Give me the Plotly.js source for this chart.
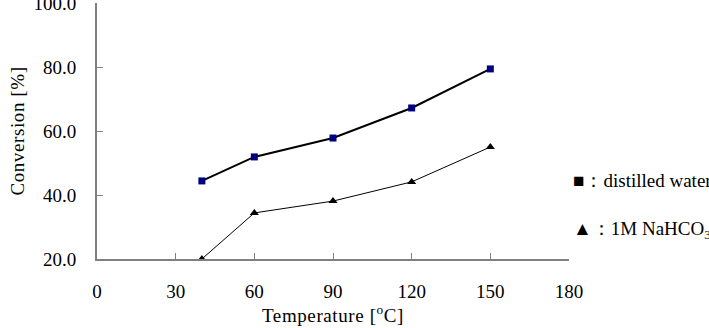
<!DOCTYPE html>
<html><head><meta charset="utf-8">
<script src="https://cdn.plot.ly/plotly-3.0.1.min.js"></script>
<style>html,body{margin:0;padding:0;background:#fff}#c{width:709px;height:328px}
.g-xtitle text,.g-ytitle text{letter-spacing:0.6px}</style>
</head><body><div id="c"></div>
<script>
const temperature = [40, 60, 90, 120, 150];
const distilledWater = [44.4, 51.9, 57.8, 67.2, 79.4];
const nahco3 = [20.0, 34.4, 38.1, 44.1, 55.0];
const xTicks = [0, 30, 60, 90, 120, 150, 180];
const yTicks = [20, 40, 60, 80, 100];
const yTickLabels = ["20.0", "40.0", "60.0", "80.0", "100.0"];
const legendLabels = ["■：distilled water", "▲：1M NaHCO<sub>3</sub>"];

const FAM = "'Liberation Serif', 'Times New Roman', Times, serif";
const f = (s) => ({family: FAM, size: s, color: "#000"});

const traces = [
  {x: temperature, y: distilledWater, mode: "lines+markers", cliponaxis: false,
   line: {color: "#000", width: 2}, marker: {symbol: "square", size: 7, color: "#000080"}},
  {x: temperature, y: nahco3, mode: "lines+markers", cliponaxis: false,
   line: {color: "#000", width: 1}, marker: {symbol: "triangle-up", size: 8, color: "#000"}}
];

const layout = {
  width: 709, height: 328,
  margin: {l: 97, r: 140, t: 3, b: 69},
  showlegend: false,
  paper_bgcolor: "#fff", plot_bgcolor: "#fff",
  font: f(19),
  xaxis: {range: [0, 180], tickvals: xTicks, ticktext: xTicks.map(String),
    showgrid: false, zeroline: false, showline: true, linecolor: "#808080", linewidth: 2,
    ticks: "inside", ticklen: 6, tickcolor: "#808080", tickwidth: 1,
    ticklabelstandoff: 14, ticklabeloverflow: "allow", tickfont: f(19),
    title: {text: "Temperature [<sup>o</sup>C]", standoff: 4, font: f(19)}},
  yaxis: {range: [20, 100], tickvals: yTicks, ticktext: yTickLabels,
    showgrid: false, zeroline: false, showline: true, linecolor: "#808080", linewidth: 2,
    ticks: "inside", ticklen: 6, tickcolor: "#808080", tickwidth: 1,
    ticklabelstandoff: 15, ticklabeloverflow: "allow", tickfont: f(19),
    title: {text: "Conversion [%]", standoff: 4, font: f(19)}},
  annotations: [
    {xref: "paper", yref: "y", x: 1.005, y: 44.4, xanchor: "left", yanchor: "middle", showarrow: false,
     text: legendLabels[0], font: f(19)},
    {xref: "paper", yref: "y", x: 1.005, y: 29.0, xanchor: "left", yanchor: "middle", showarrow: false,
     text: legendLabels[1], font: f(19)}
  ]
};
Plotly.newPlot("c", traces, layout, {staticPlot: true, displayModeBar: false});
</script></body></html>
